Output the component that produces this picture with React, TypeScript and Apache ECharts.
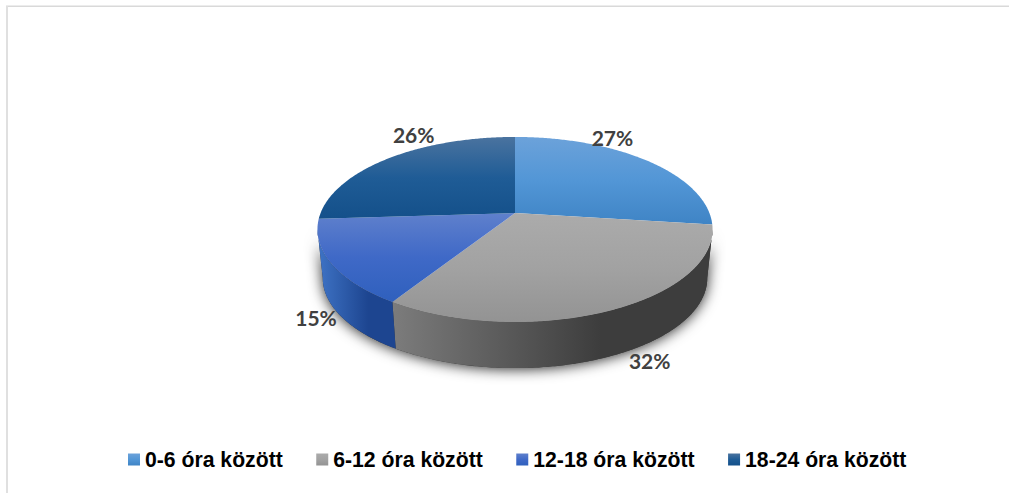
import React, { useEffect, useRef } from "react";
import * as echarts from "echarts";

const categories = ["0-6 óra között", "6-12 óra között", "12-18 óra között", "18-24 óra között"];
const values = [27, 32, 15, 26];
const faceStops = [
  ["#6ca2da", "#5296d6", "#3f84c5"],
  ["#ababab", "#a2a2a2", "#939393"],
  ["#5f80cc", "#3f69c7", "#2f60bd"],
  ["#4a739f", "#1f5c96", "#14508a"],
];
const wallStops = [
  ["#3c7ab4", "#2f6aa3"],
  ["#7c7c7c", "#3d3d3d"],
  ["#3f74c6", "#1d4590"],
  ["#1d5a92", "#134a7e"],
];
const labelOffsets = [
  [-33, -22],
  [36, 51],
  [-15, 54],
  [25, -24],
];

const CX = 515;
const TOP_Y = 213;
const BOTTOM_Y = 262;
const K = 0.178;
const RX = 194.4;
const RY = 89.6;
const RX_B = 189.2;
const RY_B = 87.2;
const TOTAL = values.reduce((a, b) => a + b, 0);
const WALL_MIN = Math.PI - Math.acos(K);
const WALL_MAX = Math.PI + Math.acos(K);

function project(theta: number, bottom = false): number[] {
  const u = Math.sin(theta);
  const v = Math.cos(theta);
  const w = 1 + K * v;
  return bottom
    ? [CX + (RX_B * u) / w, BOTTOM_Y - (RY_B * v) / w]
    : [CX + (RX * u) / w, TOP_Y - (RY * v) / w];
}

function arc(a0: number, a1: number, bottom = false): number[][] {
  const n = Math.max(2, Math.ceil((a1 - a0) / 0.01));
  const out: number[][] = [];
  for (let i = 0; i <= n; i++) out.push(project(a0 + ((a1 - a0) * i) / n, bottom));
  return out;
}

function vGrad(c: string[]) {
  return new echarts.graphic.LinearGradient(0, 0, 0, 1, [
    { offset: 0, color: c[0] },
    { offset: 0.5, color: c[1] },
    { offset: 1, color: c[2] },
  ]);
}

function hGrad(c: string[]) {
  return new echarts.graphic.LinearGradient(0, 0, 1, 0, [
    { offset: 0, color: c[0] },
    { offset: 0.65, color: c[1] },
    { offset: 1, color: c[1] },
  ]);
}

export default function App() {
  const ref = useRef<HTMLDivElement>(null);
  useEffect(() => {
    document.body.style.margin = "0";
    const chart = echarts.init(ref.current!, undefined, { renderer: "svg" });
    let cum = 0;
    const series = values.map((value, i) => {
      const a0 = (cum / TOTAL) * Math.PI * 2;
      cum += value;
      const a1 = (cum / TOTAL) * Math.PI * 2;
      return {
        type: "custom",
        name: categories[i],
        coordinateSystem: "none",
        silent: true,
        data: [value],
        renderItem: (_p: any, api: any) => {
          const val = api.value(0);
          const children: any[] = [];
          if (i === 0) {
            const whole = [...arc(WALL_MIN, WALL_MAX), ...arc(WALL_MIN, WALL_MAX, true).reverse()];
            children.push({
              type: "polygon",
              z2: 0,
              shape: { points: whole },
              style: {
                fill: "#333333",
                shadowBlur: 14,
                shadowColor: "rgba(0,0,0,0.85)",
                shadowOffsetY: 1,
              },
            });
          }
          const w0 = Math.max(a0, WALL_MIN);
          const w1 = Math.min(a1, WALL_MAX);
          if (w1 > w0) {
            const pts = [...arc(w0, w1), ...arc(w0, w1, true).reverse()];
            children.push({
              type: "polygon",
              z2: 1,
              shape: { points: pts },
              style: { fill: hGrad(wallStops[i]) },
            });
          }
          children.push({
            type: "polygon",
            z2: 2,
            shape: { points: [[CX, TOP_Y], ...arc(a0, a1)] },
            style: { fill: vGrad(faceStops[i]) },
          });
          const mid = project((a0 + a1) / 2);
          children.push({
            type: "text",
            z2: 3,
            x: mid[0] + labelOffsets[i][0],
            y: mid[1] + labelOffsets[i][1],
            style: {
              text: `${val}%`,
              fontFamily: "Lato",
              fontWeight: 700,
              fontSize: 21,
              fill: "#404040",
              align: "center",
              verticalAlign: "middle",
            },
          });
          return { type: "group", children };
        },
      };
    });
    chart.setOption({
      animation: false,
      backgroundColor: "#ffffff",
      legend: {
        left: 128,
        top: 449,
        padding: 0,
        itemWidth: 12,
        itemHeight: 12,
        itemGap: 33.5,
        icon: "rect",
        selectedMode: false,
        textStyle: { fontFamily: "Liberation Sans", fontWeight: 700, fontSize: 21.2, color: "#000000" },
        data: categories.map((name, i) => ({ name, itemStyle: { color: vGrad(faceStops[i]) } })),
      },
      graphic: [
        { type: "line", shape: { x1: 6, y1: 6.25, x2: 1009, y2: 6.25 }, style: { stroke: "#d9d9d9", lineWidth: 1.5 } },
        { type: "line", shape: { x1: 7, y1: 6, x2: 7, y2: 493 }, style: { stroke: "#e0e0e0", lineWidth: 2 } },
      ],
      series,
    });
    return () => chart.dispose();
  }, []);
  return <div ref={ref} style={{ width: 1009, height: 493 }} />;
}
